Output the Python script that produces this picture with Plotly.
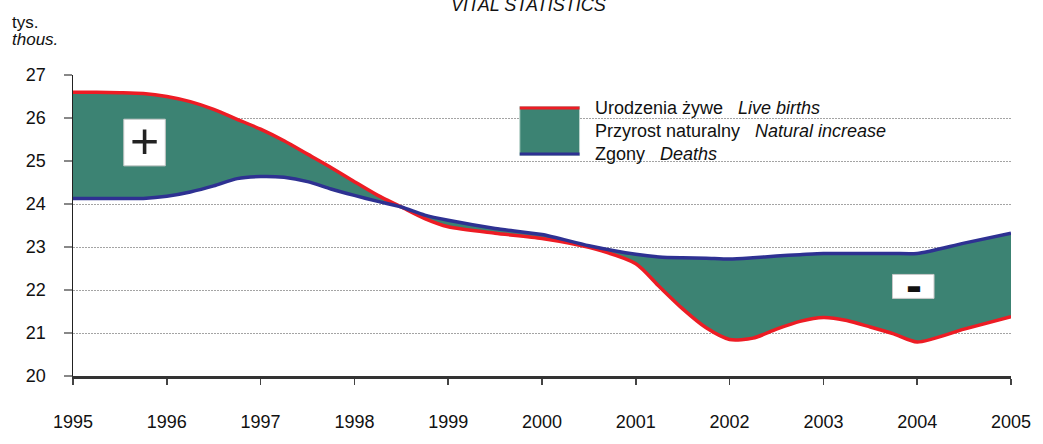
import plotly.graph_objects as go

# ---- data (thousands) ----
years = [1995, 1995.25, 1995.5, 1995.75, 1996, 1996.25, 1996.5, 1996.75, 1997, 1997.25,
         1997.5, 1997.75, 1998, 1998.25, 1998.5, 1998.75, 1999, 1999.5, 2000, 2000.5,
         2001, 2001.25, 2001.5, 2001.75, 2002, 2002.25, 2002.5, 2002.75, 2003, 2003.25,
         2003.5, 2003.75, 2004, 2004.5, 2005]
births = [26.60, 26.60, 26.59, 26.57, 26.50, 26.38, 26.20, 25.97, 25.74, 25.47,
          25.16, 24.85, 24.52, 24.20, 23.93, 23.66, 23.47, 23.32, 23.20, 22.99,
          22.61, 22.08, 21.56, 21.12, 20.85, 20.88, 21.09, 21.27, 21.36, 21.29,
          21.14, 20.98, 20.79, 21.09, 21.38]
deaths = [24.13, 24.13, 24.13, 24.13, 24.18, 24.28, 24.42, 24.59, 24.64, 24.62,
          24.52, 24.35, 24.20, 24.06, 23.93, 23.74, 23.62, 23.43, 23.29, 23.03,
          22.83, 22.77, 22.75, 22.74, 22.72, 22.75, 22.79, 22.82, 22.85, 22.85,
          22.85, 22.85, 22.85, 23.09, 23.32]
x_ticks = [1995, 1996, 1997, 1998, 1999, 2000, 2001, 2002, 2003, 2004, 2005]
y_ticks = [20, 21, 22, 23, 24, 25, 26, 27]

title_text = "<i>VITAL STATISTICS</i>"
unit_pl = "tys."
unit_en = "<i>thous.</i>"
legend_items = [
    ("Urodzenia żywe", "Live births"),
    ("Przyrost naturalny", "Natural increase"),
    ("Zgony", "Deaths"),
]

RED = "#ed1c24"
BLUE = "#2e3192"
GREEN = "#3c8373"
FONT = "Liberation Sans, Arial, sans-serif"

W, H = 1043, 444
ML, MR, MT, MB = 73, 28, 75, 51
PW, PH = W - ML - MR, H - MT - MB


def xp(px):
    return (px - ML) / PW


def yp(py):
    return (H - MB - py) / PH


fig = go.Figure()
fig.add_trace(go.Scatter(x=years, y=births, mode="lines",
                         line=dict(color=RED, width=3.5, shape="spline", smoothing=0.7),
                         showlegend=False, hoverinfo="skip"))
fig.add_trace(go.Scatter(x=years, y=deaths, mode="lines", fill="tonexty", fillcolor=GREEN,
                         line=dict(color=BLUE, width=3.5, shape="spline", smoothing=0.7),
                         showlegend=False, hoverinfo="skip"))

shapes = []
annotations = []

# legend background (hides grid lines)
shapes.append(dict(type="rect", xref="paper", yref="paper", layer="between",
                   x0=xp(514), x1=xp(916), y0=yp(172), y1=yp(98),
                   fillcolor="white", line=dict(width=0)))
# legend swatch
shapes.append(dict(type="rect", xref="paper", yref="paper", layer="above",
                   x0=xp(521.7), x1=xp(581.7), y0=yp(160), y1=yp(108.3),
                   fillcolor=GREEN, line=dict(color="#b9d3cb", width=1)))
shapes.append(dict(type="line", xref="paper", yref="paper", layer="above",
                   x0=xp(521.7), x1=xp(581.7), y0=yp(109.8), y1=yp(109.8),
                   line=dict(color=RED, width=3)))
shapes.append(dict(type="line", xref="paper", yref="paper", layer="above",
                   x0=xp(521.7), x1=xp(581.7), y0=yp(158.5), y1=yp(158.5),
                   line=dict(color=BLUE, width=3)))
for i, (pl, en) in enumerate(legend_items):
    annotations.append(dict(xref="paper", yref="paper", x=xp(595), y=yp(110 + 24 * i),
                            xanchor="left", yanchor="middle", showarrow=False,
                            text=pl + "\u00a0\u00a0\u00a0<i>" + en + "</i>",
                            font=dict(family=FONT, size=18, color="#111")))

# plus / minus boxes
shapes.append(dict(type="rect", xref="paper", yref="paper", layer="above",
                   x0=xp(124), x1=xp(165.7), y0=yp(171), y1=yp(121.7),
                   fillcolor="white", line=dict(color="#c8c8c8", width=1)))
annotations.append(dict(xref="paper", yref="paper", x=xp(144.5), y=yp(145),
                        xanchor="center", yanchor="middle", showarrow=False, text="+",
                        font=dict(family=FONT, size=50, color="#222")))
shapes.append(dict(type="rect", xref="paper", yref="paper", layer="above",
                   x0=xp(896), x1=xp(937.7), y0=yp(311), y1=yp(285.7),
                   fillcolor="white", line=dict(color="#c8c8c8", width=1)))
annotations.append(dict(xref="paper", yref="paper", x=xp(918), y=yp(297.5),
                        xanchor="center", yanchor="middle", showarrow=False, text="<b>-</b>",
                        font=dict(family=FONT, size=48, color="#111")))

# title and units
annotations.append(dict(xref="paper", yref="paper", x=xp(530), y=yp(1),
                        xanchor="center", yanchor="middle", showarrow=False, text=title_text,
                        font=dict(family=FONT, size=18, color="#111")))
annotations.append(dict(xref="paper", yref="paper", x=xp(10), y=yp(20),
                        xanchor="left", yanchor="middle", showarrow=False, text=unit_pl,
                        font=dict(family=FONT, size=17, color="#111")))
annotations.append(dict(xref="paper", yref="paper", x=xp(10), y=yp(38),
                        xanchor="left", yanchor="middle", showarrow=False, text=unit_en,
                        font=dict(family=FONT, size=17, color="#111")))

fig.update_layout(
    width=W, height=H,
    margin=dict(l=ML, r=MR, t=MT, b=MB, pad=0),
    paper_bgcolor="white", plot_bgcolor="white",
    font=dict(family=FONT, size=18, color="#111"),
    shapes=shapes, annotations=annotations,
    showlegend=False,
    xaxis=dict(range=[1995, 2005], tickmode="array", tickvals=x_ticks,
               ticktext=[str(v) for v in x_ticks],
               showgrid=False, zeroline=False,
               showline=True, linecolor="#333", linewidth=2.5,
               ticks="outside", ticklen=6, tickwidth=1.5, tickcolor="#444",
               ticklabelstandoff=22,
               tickfont=dict(family=FONT, size=18, color="#111")),
    yaxis=dict(range=[20, 27], tickmode="array", tickvals=y_ticks,
               ticktext=[str(v) for v in y_ticks],
               showgrid=True, gridcolor="#a4a4a4", griddash="2px,1px", gridwidth=1,
               zeroline=False,
               showline=True, linecolor="#222", linewidth=1.5,
               ticks="outside", ticklen=8, tickwidth=2, tickcolor="#888",
               ticklabelstandoff=14,
               tickfont=dict(family=FONT, size=18, color="#111")),
)

fig.write_html(
    "out.html",
    config={"displayModeBar": False, "staticPlot": True},
    post_script=(
        "var s=document.documentElement.style;s.margin='0';s.padding='0';"
        "s.height='444px';s.overflow='hidden';"
        "var b=document.body.style;b.margin='0';b.padding='0';"
        "b.height='444px';b.overflow='hidden';"
    ),
)
